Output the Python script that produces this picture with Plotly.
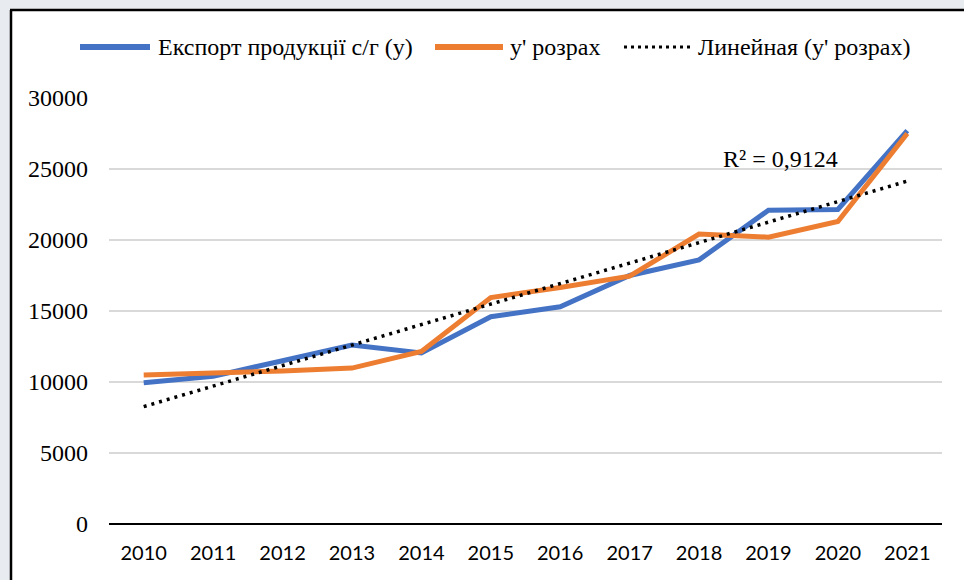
import numpy as np
import plotly.graph_objects as go

# ---------------- data ----------------
years = ["2010", "2011", "2012", "2013", "2014", "2015", "2016", "2017", "2018", "2019", "2020", "2021"]
export_y = [9950, 10400, 11500, 12600, 12050, 14600, 15300, 17500, 18600, 22100, 22150, 27700]
y_rozrah = [10500, 10620, 10780, 10980, 12150, 15950, 16650, 17450, 20420, 20200, 21300, 27500]
series_names = ["Експорт продукції с/г (у)", "у' розрах", "Линейная (у' розрах)"]
r2_label = "R² = 0,9124"
y_ticks = [0, 5000, 10000, 15000, 20000, 25000, 30000]

# linear trendline of y' rozrah (computed, as Excel does)
xi = np.arange(len(years))
k, b = np.polyfit(xi, y_rozrah, 1)
trend = (k * xi + b).tolist()

# ---------------- layout geometry (pixels) ----------------
W, H = 964, 580
PL, PR, PT, PB = 109, 942, 98, 524


def px(x):
    return (x - PL) / (PR - PL)


def py(y):
    return (PB - y) / (PB - PT)


BLUE = "#4472C4"
ORANGE = "#ED7D31"
SERIF = "Liberation Serif"
LATO = "Lato"

fig = go.Figure()
fig.add_trace(go.Scatter(x=years, y=export_y, mode="lines", name=series_names[0],
                         line=dict(color=BLUE, width=5), showlegend=False))
fig.add_trace(go.Scatter(x=years, y=y_rozrah, mode="lines", name=series_names[1],
                         line=dict(color=ORANGE, width=5), showlegend=False))
fig.add_trace(go.Scatter(x=years, y=trend, mode="lines", name=series_names[2],
                         line=dict(color="black", width=3.5, dash="3px,5px"), showlegend=False))

shapes = []
annotations = []
shapes.append(dict(type="rect", xref="paper", yref="paper", layer="below",
                   x0=px(10), x1=px(W + 5), y0=py(H + 5), y1=py(10),
                   fillcolor="white", line=dict(width=0)))
shapes.append(dict(type="line", xref="paper", yref="paper", x0=px(10), x1=px(W + 5),
                   y0=py(10), y1=py(10), line=dict(color="black", width=2.5)))
shapes.append(dict(type="line", xref="paper", yref="paper", x0=px(11), x1=px(11),
                   y0=py(10), y1=py(H + 5), line=dict(color="black", width=2.5)))

leg_y = 47
leg_items = [
    (80, 150, 156, dict(color=BLUE, width=6)),
    (435, 503, 508, dict(color=ORANGE, width=6)),
    (624, 691, 696, dict(color="black", width=3, dash="3px,4px")),
]
for (lx0, lx1, tx, ln), name in zip(leg_items, series_names):
    shapes.append(dict(type="line", xref="paper", yref="paper", x0=px(lx0), x1=px(lx1),
                       y0=py(leg_y), y1=py(leg_y), line=ln))
    annotations.append(dict(xref="paper", yref="paper", x=px(tx), y=py(leg_y), text=name,
                            showarrow=False, xanchor="left", yanchor="middle",
                            font=dict(family=SERIF, size=24, color="black")))

annotations.append(dict(xref="paper", yref="paper", x=px(780), y=py(159), text=r2_label,
                        showarrow=False, xanchor="center", yanchor="middle",
                        font=dict(family=SERIF, size=24, color="black")))

fig.update_layout(
    width=W, height=H,
    margin=dict(l=PL, r=W - PR, t=PT, b=H - PB, pad=0),
    paper_bgcolor="#e8ebf0",
    plot_bgcolor="white",
    shapes=shapes,
    annotations=annotations,
    showlegend=False,
    xaxis=dict(type="category", range=[-0.5, len(years) - 0.5],
               showgrid=False, zeroline=False,
               showline=False, ticks="", ticklabelstandoff=15,
               tickfont=dict(family=LATO, size=20, color="black")),
    yaxis=dict(range=[0, 30000], tickvals=y_ticks, ticktext=[str(v) for v in y_ticks],
               showgrid=True, gridcolor="#D9D9D9", gridwidth=1.5,
               zeroline=True, zerolinecolor="black", zerolinewidth=2,
               showline=False, ticks="", ticklabelstandoff=20,
               tickfont=dict(family=SERIF, size=24, color="black")),
)

fig.write_html("out.html", config={"displayModeBar": False},
               post_script="document.body.style.margin='0';")
